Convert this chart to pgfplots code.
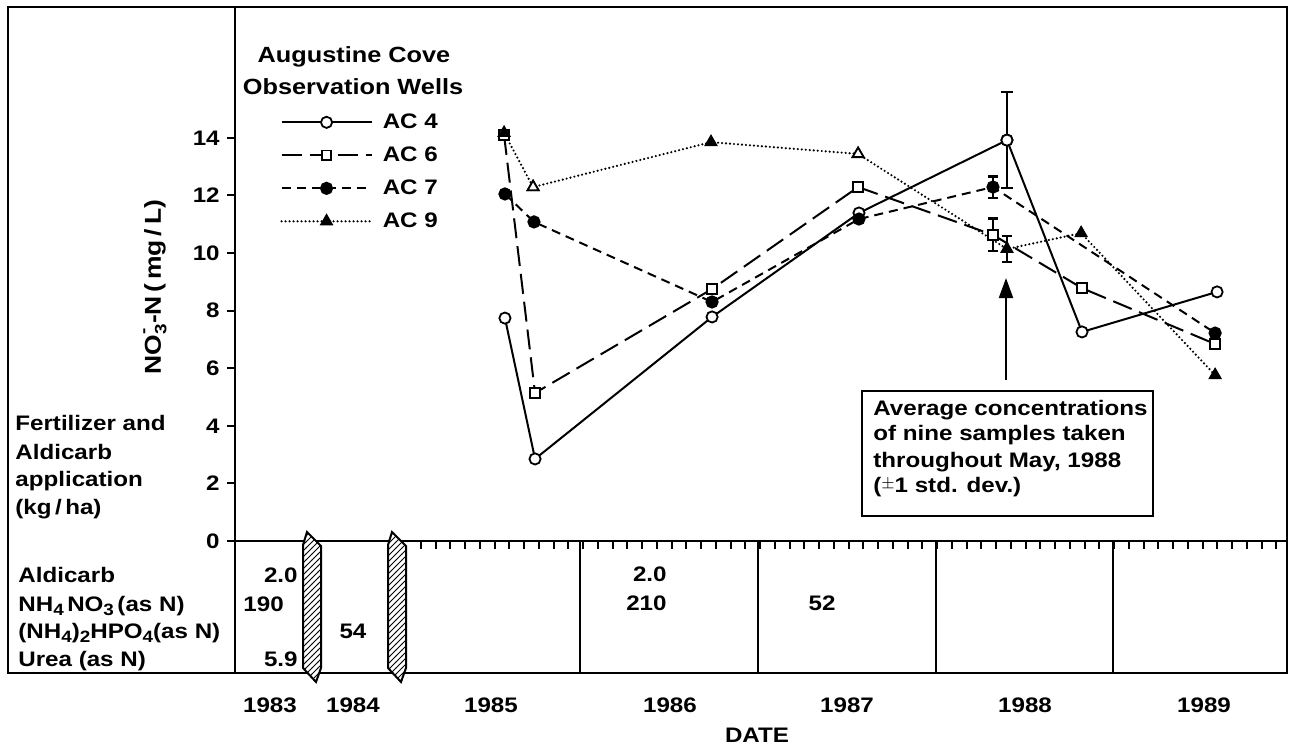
\documentclass[border=0pt]{standalone}
\usepackage{pgfplots}
\usepackage{pgfplotstable}
\pgfplotsset{compat=1.18}
\usepackage{fontspec}
\setmainfont{Liberation Sans}[FakeStretch=1.15]
\usetikzlibrary{patterns,arrows.meta}
\newcommand{\sub}[1]{\raisebox{-0.45ex}{\fontsize{8.2}{9}\selectfont #1}}

\pgfplotstableread{
x y
1985.559 7.74
1985.729 2.85
1986.729 7.78
1987.559 11.39
1988.395 13.92
1988.819 7.26
1989.582 8.65
}\acfour
\pgfplotstableread{
x y
1985.554 14.10
1985.729 5.14
1986.729 8.75
1987.554 12.29
1988.316 10.63
1988.819 8.78
1989.571 6.84
}\acsix
\pgfplotstableread{
x y
1985.559 12.05
1985.723 11.08
1986.729 8.30
1987.559 11.18
1988.316 12.29
1989.571 7.22
}\acseven
\pgfplotstableread{
x y
1985.554 14.17
1985.718 12.29
1986.723 13.85
1987.554 13.44
1988.395 10.14
1988.814 10.69
1989.571 5.76
}\acnine
\pgfplotstableread{
x y
1985.718 12.29
1987.554 13.44
}\acnineopen

\newcommand{\hatchbox}[1]{%
  \fill[white] (#1,545) -- (#1+4,532) -- (#1+18,546) -- (#1+18,668) -- (#1+13,682) -- (#1,668) -- cycle;
  \fill[pattern=north east lines] (#1,545) -- (#1+4,532) -- (#1+18,546) -- (#1+18,668) -- (#1+13,682) -- (#1,668) -- cycle;
  \draw[line width=1pt] (#1,545) -- (#1+4,532) -- (#1+18,546) -- (#1+18,668) -- (#1+13,682) -- (#1,668) -- cycle;}

\begin{document}
\fontsize{10.5}{12.5}\selectfont\bfseries
\begin{tikzpicture}
\path[use as bounding box] (0,0) rectangle (645.5pt,373pt);
\begin{axis}[
  at={(117.5pt,36.5pt)}, anchor=south west,
  scale only axis, width=526pt, height=333pt,
  xmin=1984.034, xmax=1989.977, ymin=-4.583, ymax=18.542,
  clip=false,
  axis line style={line width=1.1pt},
  xtick=\empty,
  ytick={0,2,4,6,8,10,12,14},
  ytick pos=left,
  tick align=outside,
  major tick length=4pt,
  every tick/.style={black, line width=1pt},
  /pgf/number format/assume math mode=true,
  yticklabel style={font=\fontsize{10.5}{12.5}\selectfont\bfseries},
  legend style={at={(axis cs:1984.288,15.0)}, anchor=north west, draw=none, fill=none,
     inner sep=0pt, row sep=3.6pt, column sep=3pt,
     nodes={inner sep=2pt, font=\fontsize{10.5}{12.5}\selectfont\bfseries}},
  legend cell align=left,
  legend image code/.code={\draw[mark repeat=2,mark phase=2] plot coordinates {(0pt,0pt) (22.5pt,0pt) (45pt,0pt)};},
]
\addplot[black, line width=1pt, mark=*, mark size=2.8pt, mark options={solid, fill=white, line width=0.9pt}] table {\acfour};
\addlegendentry{AC 4}
\addplot[black, line width=1pt, dash pattern=on 10pt off 4pt, mark=square*, mark size=2.4pt, mark options={solid, fill=white, line width=0.9pt}] table {\acsix};
\addlegendentry{AC 6}
\addplot[black, line width=1pt, dash pattern=on 4.5pt off 3pt, mark=*, mark size=2.8pt, mark options={solid, fill=black}] table {\acseven};
\addlegendentry{AC 7}
\addplot[black, line width=1.2pt, line cap=round, dash pattern=on 0pt off 2pt, mark=triangle*, mark size=3.2pt, mark options={solid, fill=black, line width=0.8pt}] table {\acnine};
\addlegendentry{AC 9}
\addplot[forget plot, only marks, black, mark=triangle*, mark size=3.2pt, mark options={solid, fill=white, line width=0.9pt}] table {\acnineopen};
% error bars for May 1988 averages
\addplot[forget plot, only marks, black, mark=*, mark size=2.8pt, mark options={fill=white, line width=0.9pt},
  error bars/.cd, y dir=both, y explicit, error bar style={line width=1pt}, error mark=-, error mark options={rotate=90, black, line width=1.1pt, mark size=3pt}]
  coordinates {(1988.395,13.92) +- (0,1.66)};
\addplot[forget plot, only marks, black, mark=*, mark size=2.8pt, mark options={fill=black},
  error bars/.cd, y dir=both, y explicit, error bar style={line width=1pt}, error mark=-, error mark options={rotate=90, black, line width=1.1pt, mark size=2.6pt}]
  coordinates {(1988.316,12.29) +- (0,0.37)};
\addplot[forget plot, only marks, black, mark=square*, mark size=2.4pt, mark options={fill=white, line width=0.9pt},
  error bars/.cd, y dir=both, y explicit, error bar style={line width=1pt}, error mark=-, error mark options={rotate=90, black, line width=1.1pt, mark size=2.6pt}]
  coordinates {(1988.316,10.63) +- (0,0.57)};
\addplot[forget plot, only marks, black, mark=triangle*, mark size=3.2pt, mark options={fill=black},
  error bars/.cd, y dir=both, y explicit, error bar style={line width=1pt}, error mark=-, error mark options={rotate=90, black, line width=1.1pt, mark size=2.6pt}]
  coordinates {(1988.395,10.14) +- (0,0.45)};
\end{axis}
\begin{scope}[x=0.5pt, y=-0.5pt, shift={(0pt,373pt)}, every node/.style={inner sep=0pt}]
  % outer frame
  \draw[line width=1.1pt] (8,7) rectangle (1287,673);
  % table top line and separators
  \draw[line width=1.1pt] (235,541) -- (1287,541);
  \foreach \xx in {580,758,936,1113} \draw[line width=1.1pt] (\xx,541) -- (\xx,673);
  \foreach \k in {1,...,59} \draw[line width=1pt] ({406+177*\k/12},541) -- ++(0,8);
  \hatchbox{303}
  \hatchbox{388}
  % left panel text
  \node[anchor=base west] at (15,430) {Fertilizer and};
  \node[anchor=base west] at (15,459) {Aldicarb};
  \node[anchor=base west] at (15,486) {application};
  \node[anchor=base west] at (15,514) {(kg\,/\,ha)};
  \node[anchor=base west] at (18,582) {Aldicarb};
  \node[anchor=base west] at (18,611) {NH\sub{4}\,NO\sub{3}\,(as N)};
  \node[anchor=base west] at (18,638) {(NH\sub{4})\sub{2}HPO\sub{4}(as N)};
  \node[anchor=base west] at (18,666) {Urea (as N)};
  % table values
  \node[anchor=base east] at (298,582) {2.0};
  \node[anchor=base west] at (243,611) {190};
  \node[anchor=base] at (353,638) {54};
  \node[anchor=base east] at (298,666) {5.9};
  \node[anchor=base east] at (667,581) {2.0};
  \node[anchor=base east] at (667,610) {210};
  \node[anchor=base] at (822,610) {52};
  % years
  \foreach \xx/\yy in {270/1983,353/1984,491/1985,670/1986,847/1987,1025/1988,1204/1989}
    \node at (\xx,705) {\yy};
  \node at (757,735) {DATE};
  % y label
  \node[rotate=90] at (155,287) {\fontsize{11.5}{13}\selectfont NO\rlap{\raisebox{1ex}{\fontsize{8.2}{9}\selectfont -}}\sub{3}-N\,(\,mg\,/\,L)};
  % legend title
  \node at (354,57) {\fontsize{11}{13}\selectfont Augustine Cove};
  \node at (353,87) {\fontsize{11}{13}\selectfont Observation Wells};
  % annotation
  \draw[line width=1.1pt] (862,391) rectangle (1153,516);
  \node[anchor=base west] at (873,415) {Average concentrations};
  \node[anchor=base west] at (873,440) {of nine samples taken};
  \node[anchor=base west] at (873,467) {throughout May, 1988};
  \node[anchor=base west] at (873,492) {(\raisebox{0.3ex}{\fontsize{8}{9}\selectfont$\pm$}1 std. dev.)};
  \draw[line width=1pt, -{Triangle[length=10pt,width=7pt]}] (1006,380) -- (1006,278);
\end{scope}
\end{tikzpicture}
\end{document}
